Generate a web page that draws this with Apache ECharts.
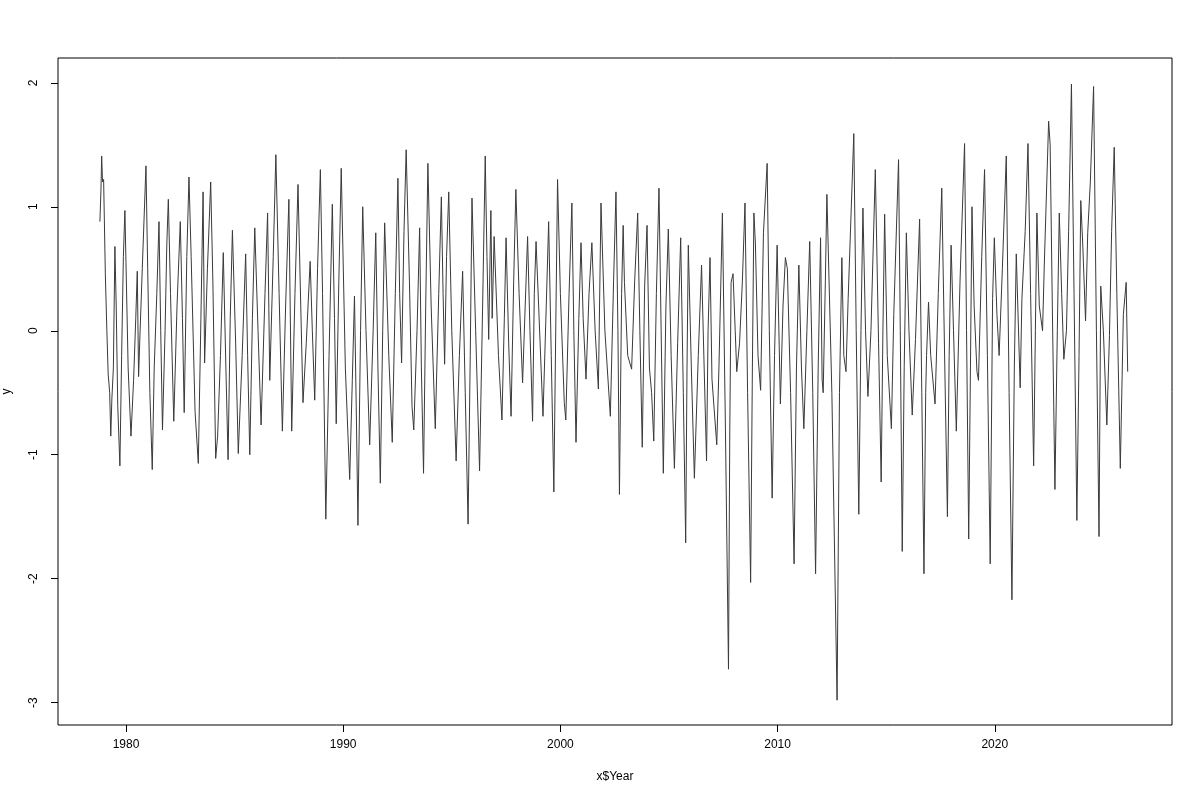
<!DOCTYPE html>
<html>
<head>
<meta charset="utf-8">
<script src="https://cdn.jsdelivr.net/npm/echarts@6/dist/echarts.min.js"></script>
<style>html,body{margin:0;padding:0;background:#fff}#c{width:1200px;height:800px}</style>
</head>
<body>
<div id="c"></div>
<script>
const years = [
1978.80,1978.85,1978.88,1978.92,1978.97,1979.05,1979.12,1979.18,1979.25,1979.30,1979.35,1979.42,1979.49,1979.55,1979.62,1979.72,1979.80,1979.88,1979.95,
1980.00,1980.10,1980.23,1980.35,1980.45,1980.52,1980.58,1980.65,1980.75,1980.92,1981.00,1981.10,1981.21,1981.30,1981.42,1981.52,1981.60,1981.68,1981.80,1981.88,1981.95,
1982.05,1982.20,1982.35,1982.50,1982.60,1982.68,1982.80,1982.90,1983.00,1983.18,1983.33,1983.45,1983.55,1983.62,1983.75,1983.90,
1984.00,1984.13,1984.22,1984.35,1984.48,1984.60,1984.70,1984.80,1984.90,1985.05,1985.17,1985.35,1985.51,1985.60,1985.70,1985.82,1985.93,
1986.08,1986.22,1986.40,1986.52,1986.62,1986.78,1986.90,1987.05,1987.20,1987.35,1987.50,1987.56,1987.63,1987.78,1987.92,
1988.02,1988.15,1988.30,1988.48,1988.58,1988.69,1988.82,1988.95,1989.05,1989.20,1989.35,1989.50,1989.60,1989.68,1989.80,1989.91,
1990.10,1990.30,1990.42,1990.52,1990.60,1990.68,1990.80,1990.90,1991.05,1991.22,1991.38,1991.50,1991.60,1991.71,1991.82,1991.91,
1992.10,1992.26,1992.40,1992.52,1992.60,1992.69,1992.80,1992.90,1993.05,1993.17,1993.25,1993.40,1993.52,1993.60,1993.70,1993.80,1993.90,
1994.05,1994.24,1994.40,1994.52,1994.60,1994.67,1994.76,1994.86,1995.00,1995.20,1995.35,1995.50,1995.62,1995.75,1995.85,1995.93,
1996.10,1996.28,1996.42,1996.54,1996.62,1996.70,1996.80,1996.86,1996.95,1997.15,1997.31,1997.42,1997.50,1997.62,1997.73,1997.85,1997.95,
1998.10,1998.26,1998.38,1998.49,1998.60,1998.72,1998.80,1998.88,1999.00,1999.20,1999.35,1999.46,1999.58,1999.70,1999.80,1999.87,
2000.00,2000.18,2000.25,2000.40,2000.53,2000.62,2000.72,2000.85,2000.95,2001.05,2001.18,2001.32,2001.45,2001.60,2001.75,2001.87,
2002.05,2002.30,2002.45,2002.56,2002.65,2002.72,2002.82,2002.89,2002.95,2003.10,2003.28,2003.42,2003.56,2003.66,2003.77,2003.88,2003.99,
2004.10,2004.20,2004.30,2004.42,2004.54,2004.64,2004.74,2004.86,2004.97,2005.10,2005.25,2005.40,2005.54,2005.66,2005.77,2005.83,2005.89,
2006.03,2006.17,2006.35,2006.50,2006.62,2006.73,2006.80,2006.89,2006.98,2007.20,2007.30,2007.46,2007.60,2007.74,2007.80,2007.86,2007.95,
2008.05,2008.12,2008.25,2008.38,2008.50,2008.62,2008.76,2008.84,2008.91,2008.98,2009.10,2009.22,2009.35,2009.52,2009.62,2009.75,2009.86,2009.98,
2010.13,2010.25,2010.36,2010.45,2010.60,2010.76,2010.87,2010.98,2011.10,2011.21,2011.35,2011.48,2011.62,2011.75,2011.87,2011.98,
2012.05,2012.10,2012.20,2012.27,2012.50,2012.74,2012.85,2012.96,2013.05,2013.15,2013.25,2013.51,2013.62,2013.74,2013.84,2013.93,
2014.05,2014.16,2014.30,2014.50,2014.65,2014.77,2014.85,2014.93,2015.05,2015.24,2015.35,2015.57,2015.65,2015.74,2015.83,2015.93,
2016.05,2016.20,2016.35,2016.54,2016.64,2016.74,2016.82,2016.86,2016.95,2017.05,2017.25,2017.40,2017.56,2017.70,2017.82,2017.90,2017.99,
2018.10,2018.23,2018.40,2018.61,2018.70,2018.80,2018.88,2018.95,2019.05,2019.18,2019.25,2019.40,2019.53,2019.66,2019.79,2019.90,2019.98,
2020.10,2020.20,2020.35,2020.53,2020.66,2020.79,2020.90,2020.99,2021.17,2021.25,2021.40,2021.53,2021.65,2021.79,2021.87,2021.94,
2022.05,2022.20,2022.28,2022.48,2022.55,2022.65,2022.77,2022.88,2022.97,2023.08,2023.18,2023.30,2023.40,2023.53,2023.65,2023.78,2023.88,2023.96,
2024.05,2024.18,2024.28,2024.40,2024.55,2024.68,2024.80,2024.88,2025.00,2025.16,2025.28,2025.38,2025.50,2025.62,2025.78,2025.92,2026.05,2026.12
];
const values = [
0.88,1.15,1.41,1.20,1.22,0.45,0.00,-0.35,-0.50,-0.85,-0.55,-0.30,0.68,0.20,-0.60,-1.09,-0.20,0.60,0.97,
0.55,-0.30,-0.85,-0.40,0.10,0.48,-0.37,0.00,0.50,1.33,0.50,-0.50,-1.12,-0.30,0.30,0.88,0.00,-0.80,0.00,0.70,1.06,
0.30,-0.73,0.20,0.88,0.10,-0.66,0.60,1.24,0.60,-0.65,-1.07,0.10,1.12,-0.26,0.50,1.20,
0.40,-1.03,-0.85,-0.20,0.63,-0.30,-1.04,0.10,0.81,-0.10,-0.99,-0.20,0.62,-0.20,-1.00,0.10,0.83,
0.00,-0.76,0.30,0.95,-0.40,0.60,1.42,0.30,-0.81,0.20,1.06,0.20,-0.81,0.30,1.18,
0.40,-0.58,-0.10,0.56,0.00,-0.56,0.50,1.30,0.30,-1.52,-0.20,1.02,0.10,-0.75,0.40,1.31,
-0.30,-1.20,-0.40,0.28,-0.60,-1.57,0.00,1.00,0.00,-0.92,0.00,0.79,-0.30,-1.23,0.00,0.87,
-0.20,-0.90,0.30,1.23,0.30,-0.26,0.80,1.46,0.40,-0.61,-0.80,0.00,0.83,-0.30,-1.15,0.20,1.35,
0.20,-0.79,0.30,1.08,0.30,-0.27,0.60,1.12,0.00,-1.05,-0.20,0.48,-0.50,-1.56,-0.20,1.07,
0.00,-1.13,0.20,1.41,0.60,-0.07,0.97,0.10,0.76,-0.20,-0.72,0.10,0.75,-0.10,-0.69,0.40,1.14,
0.30,-0.42,0.20,0.76,0.00,-0.73,0.30,0.72,0.20,-0.69,0.20,0.88,-0.20,-1.30,0.20,1.22,
0.30,-0.58,-0.72,0.30,1.03,0.00,-0.90,0.10,0.71,0.10,-0.39,0.30,0.71,0.00,-0.47,1.03,
0.00,-0.69,0.40,1.12,0.00,-1.32,0.30,0.85,0.39,-0.20,-0.31,0.40,0.95,0.00,-0.94,0.36,0.85,
-0.30,-0.50,-0.89,0.30,1.15,0.00,-1.15,0.20,0.82,-0.20,-1.11,-0.10,0.75,-0.50,-1.71,-0.30,0.69,
-0.30,-1.19,-0.20,0.53,-0.30,-1.05,0.00,0.59,-0.39,-0.92,-0.30,0.95,-0.80,-2.73,-0.80,0.39,0.46,
0.00,-0.33,-0.10,0.40,1.03,-0.50,-2.03,-0.30,0.95,0.70,-0.20,-0.48,0.79,1.35,0.00,-1.35,-0.20,0.69,
-0.59,0.20,0.59,0.50,-0.50,-1.88,-0.30,0.53,-0.30,-0.79,0.00,0.72,-0.50,-1.96,-0.30,0.75,
-0.39,-0.50,0.40,1.10,-0.50,-2.98,-0.50,0.59,-0.20,-0.33,0.26,1.59,0.00,-1.48,0.00,0.99,
0.00,-0.53,0.00,1.30,-0.10,-1.22,0.00,0.94,-0.20,-0.79,0.13,1.38,0.00,-1.78,-0.30,0.79,
0.00,-0.68,-0.07,0.90,-0.50,-1.96,-0.50,-0.20,0.23,-0.20,-0.59,0.30,1.15,-0.30,-1.50,-0.20,0.69,
0.00,-0.81,0.40,1.51,0.00,-1.68,-0.30,1.00,0.20,-0.33,-0.40,0.60,1.30,-0.20,-1.88,0.26,0.75,
0.13,-0.20,0.50,1.41,-0.50,-2.17,-0.30,0.62,-0.46,0.26,0.80,1.51,0.30,-1.09,0.00,0.95,
0.20,0.00,0.53,1.69,1.50,0.20,-1.28,0.00,0.95,0.30,-0.23,0.00,0.80,1.99,0.30,-1.53,-0.20,1.05,
0.70,0.08,0.79,1.20,1.97,0.00,-1.66,0.36,0.00,-0.76,-0.04,0.80,1.48,0.30,-1.11,0.13,0.39,-0.33
];
const xTicks = [1980, 1990, 2000, 2010, 2020];
const yTicks = [-3, -2, -1, 0, 1, 2];

const pts = years.map((t, i) => [t, values[i]]);
const font = '"Liberation Sans", Arial, sans-serif';
const chart = echarts.init(document.getElementById('c'), null, {renderer: 'canvas'});
chart.setOption({
  animation: false,
  backgroundColor: '#fff',
  grid: {left: 58, right: 28, top: 58, bottom: 75, containLabel: false, outerBoundsMode: 'none',
         show: true, borderColor: '#000', borderWidth: 1, backgroundColor: 'transparent'},
  xAxis: {
    type: 'value', min: 1976.87, max: 2028.16,
    name: 'x$Year', nameLocation: 'middle', nameGap: 46,
    nameTextStyle: {color: '#000', fontSize: 12, fontFamily: font},
    axisLine: {show: false, onZero: false},
    splitLine: {show: false},
    axisTick: {show: true, inside: false, length: 7, lineStyle: {color: '#000'}, customValues: xTicks},
    axisLabel: {color: '#000', fontSize: 12, fontFamily: font, margin: 14, customValues: xTicks, formatter: v => String(v)}
  },
  yAxis: {
    type: 'value', min: -3.18, max: 2.2,
    name: 'y', nameLocation: 'middle', nameGap: 45, nameRotate: 90,
    nameTextStyle: {color: '#000', fontSize: 12, fontFamily: font},
    axisLine: {show: false, onZero: false},
    splitLine: {show: false},
    axisTick: {show: true, inside: false, length: 7, lineStyle: {color: '#000'}, customValues: yTicks},
    axisLabel: {color: '#000', fontSize: 12, fontFamily: font, margin: 18, rotate: 90, customValues: yTicks, formatter: v => String(v)}
  },
  series: [{
    type: 'line', data: pts, symbol: 'none', smooth: false,
    lineStyle: {color: '#3a3a3a', width: 1}
  }]
});
</script>
</body>
</html>
